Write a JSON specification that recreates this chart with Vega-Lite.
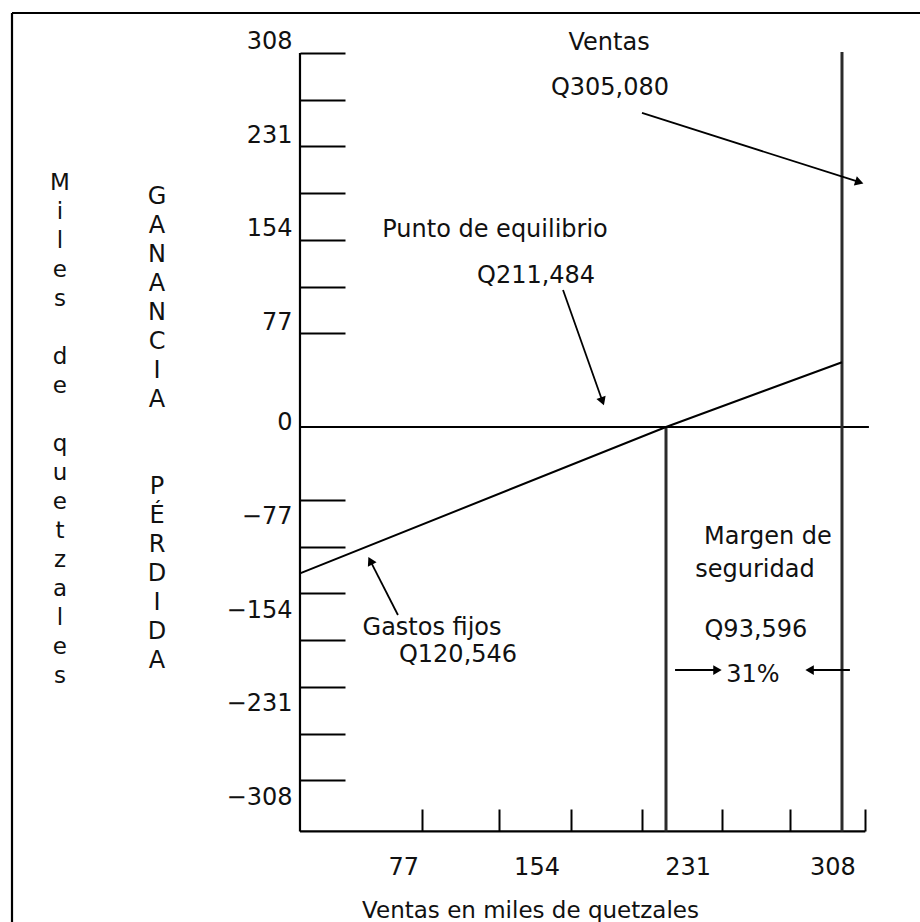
{
  "$schema": "https://vega.github.io/schema/vega-lite/v6.json",
  "width": 908,
  "height": 909,
  "autosize": "none",
  "padding": {"left": 12, "top": 13, "right": 0, "bottom": 0},
  "background": "white",
  "datasets": {
    "ejes": [
      {"linea": "marco izquierdo", "x": -166.4, "x2": -166.4, "y": 340.9, "y2": -407.6},
      {"linea": "marco superior", "x": -166.4, "x2": 346.57, "y": 340.9, "y2": 340.9},
      {"linea": "eje vertical", "x": 0, "x2": 0, "y": 308, "y2": -333},
      {"linea": "eje horizontal", "x": 0, "x2": 317.5, "y": -333, "y2": -333},
      {"linea": "nivel cero", "x": 0, "x2": 319.4, "y": 0, "y2": 0}
    ],
    "niveles": [
      {"concepto": "Punto de equilibrio", "ventas": 211.484, "desde": 0, "hasta": -333},
      {"concepto": "Ventas", "ventas": 305.08, "desde": 308.8, "hasta": -333}
    ],
    "resultado": [
      {"ventas": 0, "utilidad": -120.546},
      {"ventas": 211.484, "utilidad": 0},
      {"ventas": 305.08, "utilidad": 53.35}
    ],
    "flechas": [
      {"flecha": "ventas", "x": 197.6, "y": 258.6, "x2": 313.6, "y2": 202.0},
      {"flecha": "equilibrio", "x": 152.0, "y": 112.8, "x2": 174.5, "y2": 22.2},
      {"flecha": "gastos", "x": 56.6, "y": -154.8, "x2": 41.0, "y2": -111.2},
      {"flecha": "margen derecha", "x": 216.3, "y": -200.1, "x2": 238.1, "y2": -200.1},
      {"flecha": "margen izquierda", "x": 309.3, "y": -200.1, "x2": 288.6, "y2": -200.1}
    ],
    "textos": [
      {"texto": "Ventas", "x": 178.6, "y": 316.2},
      {"texto": "Q305,080", "x": 179.1, "y": 279.2},
      {"texto": "Punto de equilibrio", "x": 112.7, "y": 162.2},
      {"texto": "Q211,484", "x": 136.4, "y": 124.4},
      {"texto": "Gastos fijos", "x": 76.3, "y": -165.5},
      {"texto": "Q120,546", "x": 91.3, "y": -187.8},
      {"texto": "Margen de", "x": 265.7, "y": -90.6},
      {"texto": "seguridad", "x": 258.8, "y": -117.8},
      {"texto": "Q93,596", "x": 259.3, "y": -167.2},
      {"texto": "31%", "x": 257.7, "y": -204.2},
      {"texto": "G\nA\nN\nA\nN\nC\nI\nA", "x": -82.6, "y": 189.4},
      {"texto": "P\nÉ\nR\nD\nI\nD\nA", "x": -82.6, "y": -49.4}
    ],
    "titulo_eje": [
      {"texto": "M\ni\nl\ne\ns", "x": -138.7, "y": 200.9},
      {"texto": "d\ne", "x": -138.7, "y": 57.6},
      {"texto": "q\nu\ne\nt\nz\na\nl\ne\ns", "x": -138.7, "y": -14.0}
    ]
  },
  "resolve": {"axis": {"x": "independent", "y": "independent"}},
  "layer": [
    {
      "data": {"name": "ejes"},
      "mark": {"type": "rule", "color": "#000000", "strokeWidth": 2.2},
      "encoding": {
        "x": {
          "field": "x",
          "type": "quantitative",
          "scale": {"domain": [-166.4, 211.484, 346.57], "range": [0, 654, 908], "nice": false, "zero": false},
          "axis": {
            "orient": "top",
            "offset": -818,
            "values": [70.5, 115, 156.5, 197.5, 241.5, 277.5, 317.5],
            "labels": false,
            "domain": false,
            "grid": false,
            "tickSize": 22,
            "tickWidth": 2,
            "tickColor": "#000000",
            "title": null
          }
        },
        "x2": {"field": "x2"},
        "y": {
          "field": "y",
          "type": "quantitative",
          "scale": {"domain": [-407.6, 340.9], "nice": false, "zero": false},
          "axis": {
            "orient": "right",
            "offset": -620,
            "values": [308, 269.5, 231, 192.5, 154, 115.5, 77, -60, -98.5, -137, -175.5, -214, -252.5, -291],
            "labels": false,
            "domain": false,
            "grid": false,
            "tickSize": 45,
            "tickWidth": 2,
            "tickColor": "#000000",
            "title": null
          }
        },
        "y2": {"field": "y2"}
      }
    },
    {
      "data": {"name": "niveles"},
      "mark": {"type": "rule", "color": "#2b2b2b", "strokeWidth": 3},
      "encoding": {
        "x": {"field": "ventas", "type": "quantitative", "axis": null},
        "y": {"field": "desde", "type": "quantitative", "axis": null},
        "y2": {"field": "hasta"}
      }
    },
    {
      "data": {"name": "resultado"},
      "mark": {"type": "line", "color": "#000000", "strokeWidth": 2},
      "encoding": {
        "x": {"field": "ventas", "type": "quantitative", "axis": null},
        "y": {"field": "utilidad", "type": "quantitative", "axis": null}
      }
    },
    {
      "data": {"name": "flechas"},
      "mark": {"type": "rule", "color": "#000000", "strokeWidth": 1.8},
      "encoding": {
        "x": {"field": "x", "type": "quantitative", "axis": null},
        "y": {"field": "y", "type": "quantitative", "axis": null},
        "x2": {"field": "x2"},
        "y2": {"field": "y2"}
      }
    },
    {
      "data": {"name": "flechas"},
      "mark": {"type": "point", "shape": "triangle", "filled": true, "size": 95, "color": "#000000", "opacity": 1},
      "encoding": {
        "x": {"field": "x2", "type": "quantitative", "axis": null},
        "y": {"field": "y2", "type": "quantitative", "axis": null},
        "angle": {
          "field": "flecha",
          "type": "nominal",
          "scale": {
            "type": "ordinal",
            "domain": ["ventas", "equilibrio", "gastos", "margen derecha", "margen izquierda"],
            "range": [107.65, 160.4, 333, 90, 270]
          },
          "legend": null
        }
      }
    },
    {
      "data": {"name": "titulo_eje"},
      "mark": {
        "type": "text",
        "font": "DejaVu Sans",
        "fontSize": 23,
        "color": "#111111",
        "align": "center",
        "baseline": "middle",
        "lineBreak": "\n",
        "lineHeight": 29
      },
      "encoding": {
        "x": {"field": "x", "type": "quantitative", "axis": null},
        "y": {"field": "y", "type": "quantitative", "axis": null},
        "text": {"field": "texto", "type": "nominal"}
      }
    },
    {
      "data": {"name": "textos"},
      "mark": {
        "type": "text",
        "font": "DejaVu Sans",
        "fontSize": 24,
        "color": "#111111",
        "align": "center",
        "baseline": "middle",
        "lineBreak": "\n",
        "lineHeight": 29
      },
      "encoding": {
        "x": {
          "field": "x",
          "type": "quantitative",
          "axis": {
            "orient": "bottom",
            "offset": -91,
            "values": [77, 154, 231, 308],
            "ticks": false,
            "domain": false,
            "grid": false,
            "labelPadding": 36,
            "labelBaseline": "middle",
            "labelFontSize": 24,
            "labelFont": "DejaVu Sans",
            "labelColor": "#111111",
            "labelOverlap": false,
            "labelFlush": false,
            "labelOffset": {"condition": {"test": "datum.value < 200", "value": -30}, "value": -15},
            "title": "Ventas en miles de quetzales",
            "titleFont": "DejaVu Sans",
            "titleFontSize": 23,
            "titleFontWeight": "normal",
            "titleColor": "#111111",
            "titleAlign": "center",
            "titleBaseline": "middle",
            "titleX": 518,
            "titleY": 79
          }
        },
        "y": {
          "field": "y",
          "type": "quantitative",
          "axis": {
            "orient": "left",
            "offset": -288,
            "values": [308, 231, 154, 77, 0, -77, -154, -231, -308],
            "ticks": false,
            "domain": false,
            "grid": false,
            "labelPadding": 8,
            "labelAlign": "right",
            "labelBaseline": "middle",
            "labelFontSize": 24,
            "labelFont": "DejaVu Sans",
            "labelColor": "#111111",
            "labelOverlap": false,
            "labelFlush": false,
            "labelOffset": {"condition": {"test": "datum.value > 0", "value": -11}, "value": -4},
            "title": null
          }
        },
        "text": {"field": "texto", "type": "nominal"}
      }
    }
  ],
  "config": {
    "view": {"stroke": null},
    "font": "DejaVu Sans"
  }
}
